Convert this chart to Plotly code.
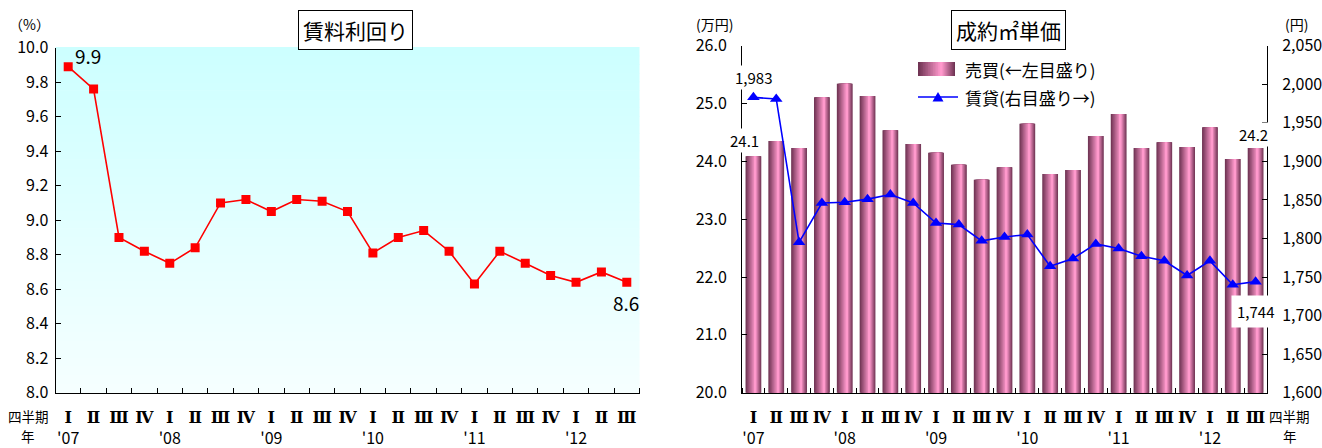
import plotly.graph_objects as go

# ---- data -------------------------------------------------------------
quarter_labels = ["Ⅰ", "Ⅱ", "Ⅲ", "Ⅳ", "Ⅰ", "Ⅱ", "Ⅲ", "Ⅳ", "Ⅰ", "Ⅱ", "Ⅲ", "Ⅳ",
                  "Ⅰ", "Ⅱ", "Ⅲ", "Ⅳ", "Ⅰ", "Ⅱ", "Ⅲ", "Ⅳ", "Ⅰ", "Ⅱ", "Ⅲ"]
year_labels = ["'07", "", "", "", "'08", "", "", "", "'09", "", "", "",
               "'10", "", "", "", "'11", "", "", "", "'12", "", ""]

# 賃料利回り (%)
yield_pct = [9.89, 9.76, 8.90, 8.82, 8.75, 8.84, 9.10, 9.12, 9.05, 9.12, 9.11, 9.05,
             8.81, 8.90, 8.94, 8.82, 8.63, 8.82, 8.75, 8.68, 8.64, 8.70, 8.64]

# 売買 成約㎡単価 (万円, left scale)
sale_price = [24.09, 24.35, 24.23, 25.11, 25.34, 25.13, 24.54, 24.30, 24.15, 23.94, 23.68, 23.90,
              24.65, 23.78, 23.85, 24.44, 24.82, 24.23, 24.33, 24.25, 24.59, 24.04, 24.23]

# 賃貸 成約㎡単価 (円, right scale)
rent_price = [1983, 1981, 1795, 1846, 1847, 1851, 1857, 1846, 1820, 1818, 1797, 1802,
              1805, 1764, 1774, 1793, 1787, 1777, 1771, 1752, 1771, 1740, 1744]

# ---- page geometry helpers -------------------------------------------
W_PX, H_PX = 1322, 448


def px(x):
    return x / W_PX


def py(y):
    return 1 - y / H_PX


FONT = "Noto Sans CJK JP"
idx = list(range(len(quarter_labels)))
tick_text = [
    f"<b><span style='font-family:DejaVu Serif'>{q}</span></b><br>{y if y else ' '}"
    for q, y in zip(quarter_labels, year_labels)
]


def lerp(c0, c1, t):
    return "rgb(%d,%d,%d)" % tuple(round(a + (b - a) * t) for a, b in zip(c0, c1))


fig = go.Figure()

# ---- left panel: yield line ------------------------------------------
fig.add_trace(go.Scatter(
    x=idx, y=yield_pct, xaxis="x", yaxis="y", name="賃料利回り",
    mode="lines+markers",
    line=dict(color="#FF0000", width=1.6),
    marker=dict(symbol="square", size=9, color="#FF0000"),
    showlegend=False,
))

# ---- right panel: shaded bars built from nested layers ---------------
BAR_W = 0.69
PEAK = 0.63
DARK = (112, 52, 84)
BRIGHT = (255, 153, 204)
N_LAYERS = 14
for k in range(N_LAYERS):
    t = k / N_LAYERS
    left = -BAR_W / 2 + t * PEAK * BAR_W
    right = BAR_W / 2 - t * (1 - PEAK) * BAR_W
    fig.add_trace(go.Bar(
        x=idx, y=sale_price, xaxis="x2", yaxis="y2", name="売買",
        width=right - left, offset=left,
        marker=dict(color=lerp(DARK, BRIGHT, k / (N_LAYERS - 1)), line=dict(width=0)),
        showlegend=False, hoverinfo="skip" if k else None,
    ))

fig.add_trace(go.Scatter(
    x=idx, y=rent_price, xaxis="x2", yaxis="y3", name="賃貸",
    mode="lines+markers",
    line=dict(color="#0000FF", width=1.6),
    marker=dict(symbol="triangle-up", size=11, color="#0000FF"),
    showlegend=False,
))

# ---- axes -------------------------------------------------------------
tickfont = dict(family=FONT, size=16, color="black")
xcommon = dict(
    range=[-0.5, len(idx) - 0.5], tickmode="array", tickvals=idx, ticktext=tick_text,
    ticks="", showline=True, linecolor="black", linewidth=1, showgrid=False,
    zeroline=False, tickfont=tickfont, ticklabelstandoff=10, automargin=False,
    minor=dict(tickmode="array", tickvals=[i - 0.5 for i in range(len(idx) + 1)],
               ticks="inside", ticklen=5, tickcolor="black", tickwidth=1, showgrid=False),
)
ycommon = dict(
    ticks="inside", ticklen=5, tickcolor="black", showline=True, linecolor="black",
    linewidth=1, showgrid=False, zeroline=False, tickfont=tickfont, automargin=False,
)

fig.update_layout(
    width=W_PX, height=H_PX, margin=dict(l=0, r=0, t=0, b=0, autoexpand=False),
    paper_bgcolor="white", plot_bgcolor="rgba(0,0,0,0)",
    barmode="overlay",
    font=dict(family=FONT, color="black"),
    xaxis=dict(domain=[px(55.5), px(639.5)], anchor="y", **xcommon),
    yaxis=dict(domain=[py(392.7), py(47.7)], anchor="x", range=[8, 10], dtick=0.2,
               tick0=8, tickformat=".1f", ticklabelstandoff=3, **ycommon),
    xaxis2=dict(domain=[px(742), px(1267)], anchor="y2", **xcommon),
    yaxis2=dict(domain=[py(392.7), py(45.7)], anchor="x2", range=[20, 26], dtick=1,
                tick0=20, tickformat=".1f", side="left", ticklabelstandoff=11, **ycommon),
    yaxis3=dict(overlaying="y2", anchor="x2", side="right", range=[1600, 2050], dtick=50,
                tick0=1600, tickformat=",d", ticklabelstandoff=11, **ycommon),
)

# ---- left panel background: vertical cyan fade -----------------------
TOP_BG = (204, 255, 255)
BOTTOM_BG = (246, 255, 255)
N_BANDS = 40
shapes = []
for i in range(N_BANDS):
    shapes.append(dict(
        type="rect", xref="x domain", yref="y domain", x0=0, x1=1,
        y0=i / N_BANDS, y1=(i + 1) / N_BANDS + 0.002,
        fillcolor=lerp(BOTTOM_BG, TOP_BG, (i + 0.5) / N_BANDS),
        line=dict(width=0), layer="below",
    ))

# ---- legend drawn as a key box on the right panel --------------------
LX0, LX1, LY0, LY1 = 918, 955, 62, 76
for k in range(N_LAYERS):
    t = k / N_LAYERS
    a = LX0 + t * PEAK * (LX1 - LX0)
    b = LX1 - t * (1 - PEAK) * (LX1 - LX0)
    shapes.append(dict(
        type="rect", xref="paper", yref="paper", x0=px(a), x1=px(b), y0=py(LY1), y1=py(LY0),
        fillcolor=lerp(DARK, BRIGHT, k / (N_LAYERS - 1)), line=dict(width=0),
    ))
shapes.append(dict(type="line", xref="paper", yref="paper", x0=px(918), x1=px(958),
                   y0=py(97), y1=py(97), line=dict(color="#0000FF", width=1.6)))
shapes.append(dict(
    type="path", xref="paper", yref="paper", fillcolor="#0000FF", line=dict(width=0),
    path=f"M {px(932.5)} {py(101.5)} L {px(943.5)} {py(101.5)} L {px(938)} {py(92)} Z",
))
fig.update_layout(shapes=shapes)

ann = []


def paper_text(text, cx, cy, size, xanchor="center", **kw):
    ann.append(dict(xref="paper", yref="paper", x=px(cx), y=py(cy), text=text,
                    xanchor=xanchor, yanchor="middle", showarrow=False,
                    font=dict(size=size, family=FONT), **kw))


# titles
for text, cx in (("賃料利回り", 355), ("成約㎡単価", 1008.5)):
    paper_text(text, cx, 29.5, 21, bordercolor="black", borderwidth=1, borderpad=4,
               bgcolor="white")
# unit captions
for text, cx, cy in (("（%）", 29.5, 24), ("(万円)", 714.5, 24), ("(円)", 1296, 24)):
    paper_text(text, cx, cy, 14)
# period captions
for text, cx, cy in (("四半期", 28, 416), ("年", 28, 436), ("四半期", 1289, 416), ("年", 1290, 436)):
    paper_text(text, cx, cy, 13.5)
# legend texts
for text, cy in (("売買(←左目盛り)", 69), ("賃貸(右目盛り→)", 97)):
    paper_text(text, 963, cy, 17, xanchor="left")

# value labels on first and last points
ann.append(dict(xref="x", yref="y", x=idx[0], y=yield_pct[0], text=f"{yield_pct[0]:.1f}",
                xanchor="left", showarrow=False, xshift=5, yshift=11,
                font=dict(size=19, family=FONT)))
ann.append(dict(xref="x", yref="y", x=idx[-1], y=yield_pct[-1], text=f"{yield_pct[-1]:.1f}",
                showarrow=False, xshift=-1, yshift=-20, font=dict(size=19, family=FONT)))
ann.append(dict(xref="x2", yref="y3", x=idx[0], y=rent_price[0], text=f"{rent_price[0]:,}",
                showarrow=False, yshift=20, bgcolor="white", font=dict(size=15, family=FONT)))
ann.append(dict(xref="x2", yref="y2", x=idx[0], y=sale_price[0], text=f"{sale_price[0]:.1f}",
                showarrow=False, xshift=-9, yshift=16, bgcolor="white",
                font=dict(size=15, family=FONT)))
ann.append(dict(xref="x2", yref="y2", x=idx[-1], y=sale_price[-1], text=f"{sale_price[-1]:.1f}",
                showarrow=False, xshift=-2, yshift=14, bgcolor="white",
                font=dict(size=15, family=FONT)))
ann.append(dict(xref="x2", yref="y3", x=idx[-1], y=rent_price[-1], text=f"{rent_price[-1]:,}",
                showarrow=False, yshift=-30, bgcolor="white", borderpad=5,
                font=dict(size=15, family=FONT)))
fig.update_layout(annotations=ann)

fig.write_html("out.html")
